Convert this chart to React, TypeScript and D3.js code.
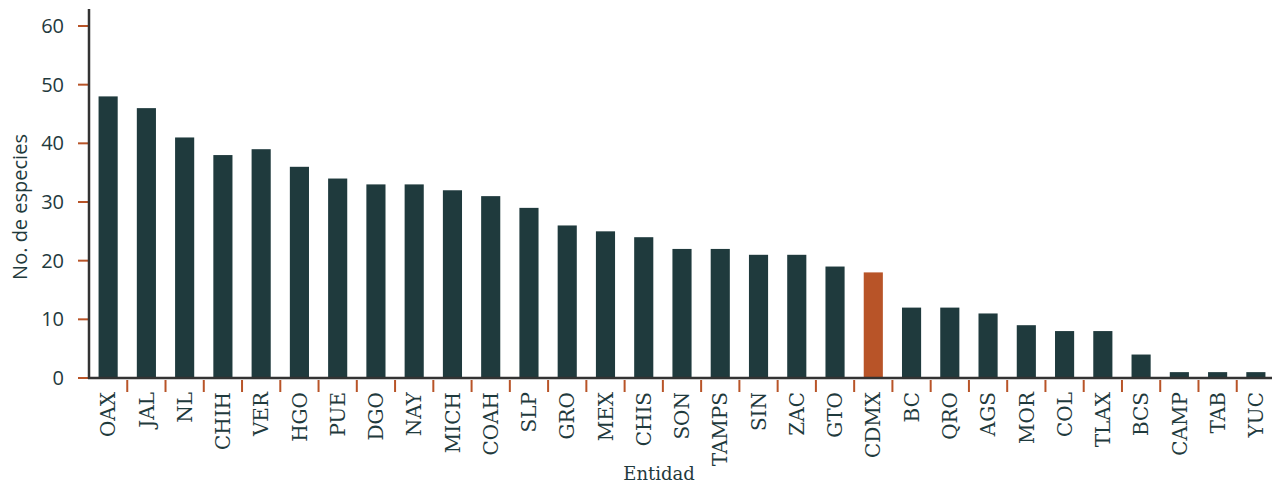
import React, { useRef, useEffect } from 'react';
import * as d3 from 'd3';

const entidades = ['OAX', 'JAL', 'NL', 'CHIH', 'VER', 'HGO', 'PUE', 'DGO', 'NAY', 'MICH', 'COAH', 'SLP', 'GRO', 'MEX', 'CHIS', 'SON', 'TAMPS', 'SIN', 'ZAC', 'GTO', 'CDMX', 'BC', 'QRO', 'AGS', 'MOR', 'COL', 'TLAX', 'BCS', 'CAMP', 'TAB', 'YUC'];
const especies = [48, 46, 41, 38, 39, 36, 34, 33, 33, 32, 31, 29, 26, 25, 24, 22, 22, 21, 21, 19, 18, 12, 12, 11, 9, 8, 8, 4, 1, 1, 1];
const yTicks = [0, 10, 20, 30, 40, 50, 60];
const destacada = 'CDMX';

const BAR = '#1f3a3d';
const ACCENT = '#b85428';
const TEXT = '#1f3a3d';

const App: React.FC = () => {
  const chartRef = useRef<HTMLDivElement>(null);

  useEffect(() => {
    d3.select(chartRef.current).select('svg').remove();

    const width = 1277;
    const height = 486;
    const left = 89;
    const right = 1275;
    const top = 26;
    const bottom = 378;

    const svg = d3.select(chartRef.current)
      .append('svg')
      .attr('width', width)
      .attr('height', height)
      .style('display', 'block');

    const x = d3.scaleBand<string>()
      .domain(entidades)
      .range([left, right])
      .paddingInner(0.5)
      .paddingOuter(0.25);

    const y = d3.scaleLinear()
      .domain([0, 60])
      .range([bottom, top]);

    const data = entidades.map((e, i) => ({ e, v: especies[i] }));

    svg.selectAll('.bar')
      .data(data)
      .enter().append('rect')
      .attr('class', 'bar')
      .attr('x', d => x(d.e)!)
      .attr('width', x.bandwidth())
      .attr('y', d => y(d.v))
      .attr('height', d => y(0) - y(d.v))
      .attr('fill', d => d.e === destacada ? ACCENT : BAR);

    // y ticks
    const yg = svg.append('g');
    yg.selectAll('line')
      .data(yTicks)
      .enter().append('line')
      .attr('x1', left - 11)
      .attr('x2', left)
      .attr('y1', d => y(d))
      .attr('y2', d => y(d))
      .attr('stroke', ACCENT)
      .attr('stroke-width', 2);
    yg.selectAll('text')
      .data(yTicks)
      .enter().append('text')
      .attr('x', 64)
      .attr('y', d => y(d))
      .attr('dy', '0.35em')
      .attr('text-anchor', 'end')
      .style('font-family', '"Open Sans", sans-serif')
      .style('font-size', '20px')
      .attr('fill', TEXT)
      .text(d => d.toString());

    // x ticks between bands
    const step = x.step();
    const boundaries = entidades.slice(1).map(e => x(e)! - (step - x.bandwidth()) / 2);
    svg.selectAll('.xtick')
      .data(boundaries)
      .enter().append('line')
      .attr('class', 'xtick')
      .attr('x1', d => d)
      .attr('x2', d => d)
      .attr('y1', bottom + 2)
      .attr('y2', bottom + 14)
      .attr('stroke', ACCENT)
      .attr('stroke-width', 2);

    svg.selectAll('.xlabel')
      .data(entidades)
      .enter().append('text')
      .attr('class', 'xlabel')
      .attr('transform', d => `translate(${x(d)! + x.bandwidth() / 2},${bottom + 14}) rotate(-90)`)
      .attr('text-anchor', 'end')
      .attr('dy', '0.36em')
      .style('font-family', '"DejaVu Serif", serif')
      .style('font-size', '20px')
      .attr('fill', TEXT)
      .text(d => d);

    // axis lines
    svg.append('line')
      .attr('x1', left)
      .attr('x2', left)
      .attr('y1', 9)
      .attr('y2', bottom + 1)
      .attr('stroke', '#333333')
      .attr('stroke-width', 2.5);
    svg.append('line')
      .attr('x1', left - 1)
      .attr('x2', 1272)
      .attr('y1', bottom)
      .attr('y2', bottom)
      .attr('stroke', '#333333')
      .attr('stroke-width', 2.5);

    // titles
    svg.append('text')
      .attr('transform', `translate(27,207) rotate(-90)`)
      .attr('text-anchor', 'middle')
      .style('font-family', '"Open Sans", sans-serif')
      .style('font-size', '20px')
      .attr('fill', TEXT)
      .text('No. de especies');

    svg.append('text')
      .attr('x', 659)
      .attr('y', 480)
      .attr('text-anchor', 'middle')
      .style('font-family', '"DejaVu Serif", serif')
      .style('font-size', '18px')
      .attr('fill', TEXT)
      .text('Entidad');
  }, []);

  return (
    <div ref={chartRef} style={{ position: 'absolute', top: 0, left: 0 }} />
  );
};

export default App;
